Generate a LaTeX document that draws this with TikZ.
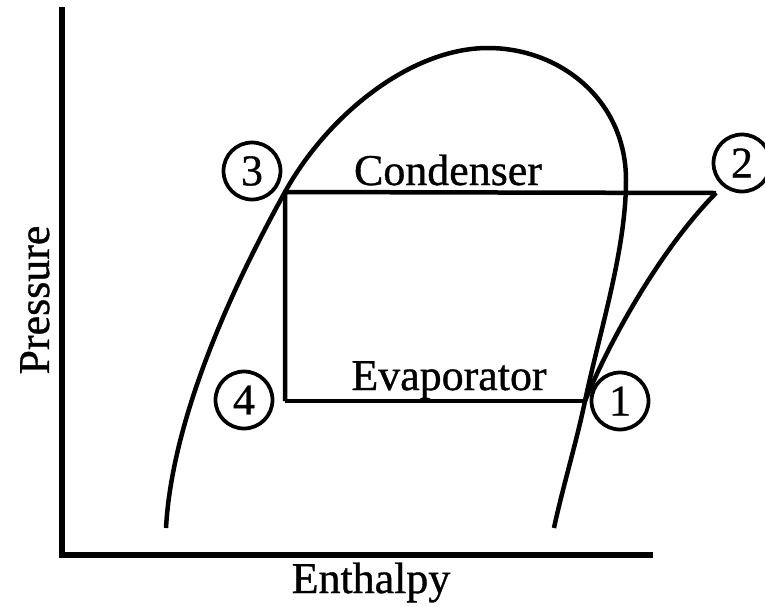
\documentclass[tikz,border=0pt]{standalone}
\usepackage{fontspec}
\setmainfont{Liberation Serif}
\newfontfamily\labelfont{Liberation Serif}[FakeBold=0.8]
\usetikzlibrary{positioning}

\begin{document}
\begin{tikzpicture}[
  x=0.02cm, y=-0.02cm,
  axis/.style={line width=0.12cm},
  curve/.style={line width=0.09cm,line join=round},
  num/.style={circle,draw,line width=0.075cm,minimum size=1.14cm,inner sep=0pt,font=\labelfont\fontsize{25}{30}\selectfont},
  lbl/.style={font=\labelfont\fontsize{25}{30}\selectfont,anchor=base}]
  \useasboundingbox (0,0) rectangle (765,606);
  % axes
  \draw[axis] (62,7) -- (62,555) -- (653,555);
  \node[lbl] (xlab) at (371,593) {Enthalpy};
  \node[lbl,rotate=90] (ylab) at (49,300) {Pressure};
  % cycle points
  \coordinate (p1) at (585,401);
  \coordinate (p2) at (716,193);
  \coordinate (p3) at (285,192);
  \coordinate (p4) at (285,401);
  % saturation dome
  \draw[curve] (166,528) .. controls (172,420) and (230,291) .. (p3)
    .. controls (327,116) and (410,48) .. (488,48)
    .. controls (560,48) and (626,100) .. (626,180)
    .. controls (626,250) and (600,330) .. (p1)
    .. controls (577,440) and (562,490) .. (554,528);
  % cycle
  \draw[curve] (p4) -- (p3) -- (p2);
  \draw[curve] (p4) -- (p1);
  \draw[curve] (p1) .. controls (610,340) and (660,250) .. (p2);
  \node[lbl] (cond) at (448,185) {Condenser};
  \node[lbl] (evap) at (449,390) {Evaporator};
  \node[num] (n1) at (620,401) {1};
  \node[num] (n2) at (742,163) {2};
  \node[num] (n3) at (252,171) {3};
  \node[num] (n4) at (244,400) {4};
\end{tikzpicture}
\end{document}
